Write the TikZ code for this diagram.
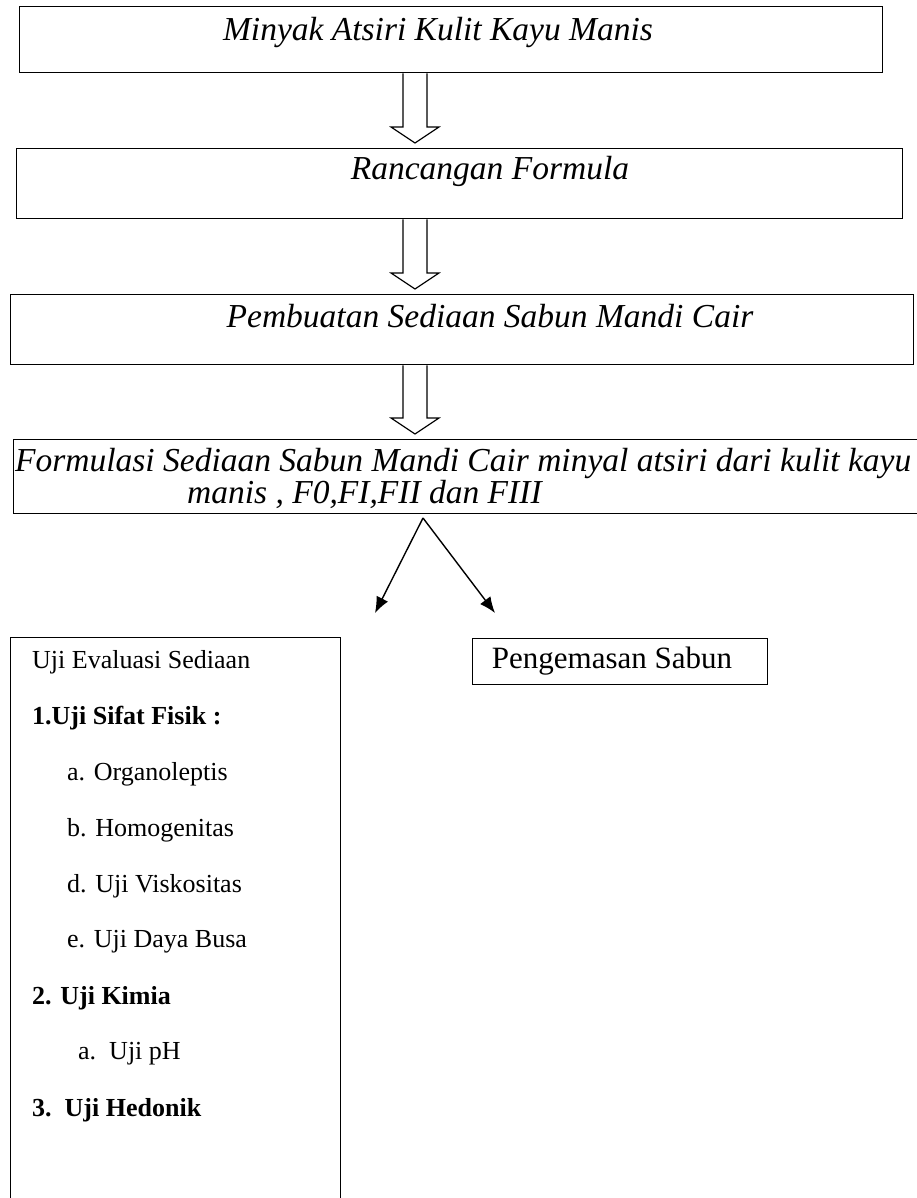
\documentclass[tikz,border=0pt]{standalone}
\usepackage{fontspec}
\setmainfont{Liberation Serif}
\usetikzlibrary{arrows.meta,positioning,calc}
\tikzset{stage/.style={rectangle, draw, line width=1.4pt, anchor=north west, inner sep=0pt}}
\tikzset{stagetext/.style={font=\fontsize{33.5}{32}\selectfont\itshape, inner sep=0pt}}
\tikzset{listtext/.style={font=\fontsize{26}{30}\selectfont, anchor=west, inner sep=0pt}}
\tikzset{hollow/.style={draw, line width=1.2pt, fill=white}}
\tikzset{line/.style={draw, line width=1.4pt, -{Latex[length=16pt,width=13pt]}}}
\newcommand{\hollowarrow}[2]{%
  \path[hollow] let \p1=(#1.south -| axis), \p2=(#2.north -| axis) in
    ({\x1-12pt},\y1) -- ({\x1-12pt},{\y2+21pt}) -- ({\x1-24pt},{\y2+21pt})
    -- (\x1,{\y2+5pt}) -- ({\x1+24pt},{\y2+21pt}) -- ({\x1+12pt},{\y2+21pt}) -- ({\x1+12pt},\y1);}

\begin{document}
\begin{tikzpicture}[x=1pt,y=-1pt]
        \useasboundingbox (0,0) rectangle (916,1198);
        \coordinate (axis) at (415,0);

        \node[stage, minimum width=863pt, minimum height=66pt] (mnyk) at (19,6) {};
        \node[stagetext] (mnykt) at (438,32) {Minyak Atsiri Kulit Kayu Manis};
        \node[stage, minimum width=886pt, minimum height=70pt] (rncg) at (16,148) {};
        \node[stagetext] (rncgt) at (490,171) {Rancangan Formula};
        \node[stage, minimum width=903pt, minimum height=70pt] (pmbt) at (10,294) {};
        \node[stagetext] (pmbtt) at (490,316) {Pembuatan Sediaan Sabun Mandi Cair};
        \node[stage, minimum width=920pt, minimum height=74pt] (frml) at (13,439) {};
        \node[stagetext, align=left, anchor=north west] (frmlt) at (15,448)
          {Formulasi Sediaan Sabun Mandi Cair minyal atsiri dari kulit kayu\\\hspace*{172pt}manis , F0,FI,FII dan FIII};

        \hollowarrow{mnyk}{rncg}
        \hollowarrow{rncg}{pmbt}
        \hollowarrow{pmbt}{frml}

        \coordinate (fork) at (423,518);
        \coordinate (lftip) at (375,613);
        \coordinate (rttip) at (495,613);
        \path[line] (fork) -- (lftip);
        \path[line] (fork) -- (rttip);

        \node[stage, minimum width=330pt, minimum height=580pt] (evls) at (10,637) {};
        \node[listtext] (ev0) at (32,662) {Uji Evaluasi Sediaan};
        \node[listtext] (ev1) at (32,718) {\textbf{1.Uji Sifat Fisik :}};
        \node[listtext] (ev1a) at (67,774) {a. Organoleptis};
        \node[listtext] (ev1b) at (67,830) {b. Homogenitas};
        \node[listtext] (ev1d) at (67,886) {d. Uji Viskositas};
        \node[listtext] (ev1e) at (67,942) {e. Uji Daya Busa};
        \node[listtext] (ev2) at (32,998) {\textbf{2. Uji Kimia}};
        \node[listtext] (ev2a) at (78,1054) {a.\ \ Uji pH};
        \node[listtext] (ev3) at (32,1110) {\textbf{3.\ \ Uji Hedonik}};

        \node[stage, minimum width=295pt, minimum height=46pt] (kms) at (472,638) {};
        \node[listtext, font=\fontsize{31}{34}\selectfont, anchor=center] (kmst) at (612,661) {Pengemasan Sabun};
      \end{tikzpicture}
\end{document}
